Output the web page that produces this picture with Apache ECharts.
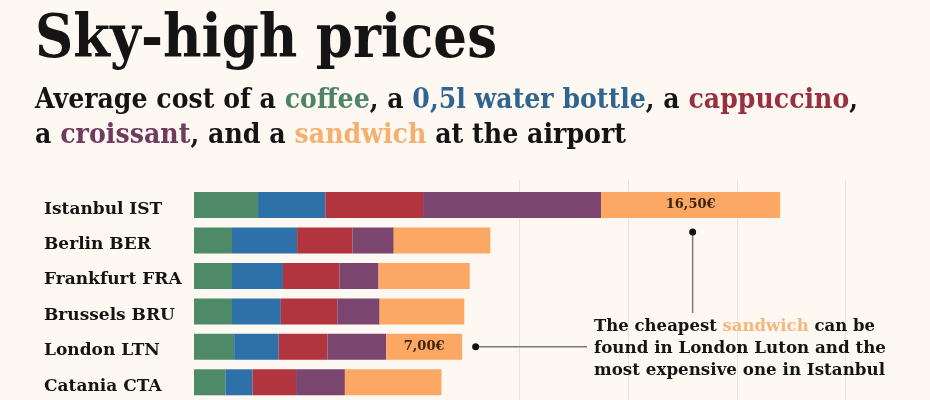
<!DOCTYPE html>
<html>
<head>
<meta charset="utf-8">
<script src="https://cdn.jsdelivr.net/npm/echarts@6/dist/echarts.min.js"></script>
<style>
html,body{margin:0;padding:0;background:#fdf9f2;}
#c{width:930px;height:400px;}
</style>
</head>
<body>
<div id="c"></div>
<script>
// ---- data ----
const airports = ['Istanbul IST', 'Berlin BER', 'Frankfurt FRA', 'Brussels BRU', 'London LTN', 'Catania CTA'];
const coffee = [5.90, 3.50, 3.50, 3.50, 3.70, 2.90];
const water = [6.20, 6.00, 4.70, 4.50, 4.10, 2.50];
const cappuccino = [9.00, 5.10, 5.20, 5.20, 4.50, 4.00];
const croissant = [16.40, 3.80, 3.60, 3.90, 5.40, 4.50];
const sandwich = [16.50, 8.90, 8.40, 7.80, 7.00, 8.90];
const gridStart = 30;      // first visible vertical guide (€)
const gridStep = 10;       // guide spacing (€)
const axisMax = 67.8;      // value at the right edge of the picture (€)

const colors = {
  coffee: '#4e8a68', water: '#2e70a8', cappuccino: '#b2343f',
  croissant: '#7a4670', sandwich: '#fca764'
};
const SERIF = '"DejaVu Serif", serif';
const ink = '#141414';

const chart = echarts.init(document.getElementById('c'), null, {renderer: 'canvas'});

const measure = (function () {
  const cv = document.createElement('canvas').getContext('2d');
  return function (txt, size) {
    cv.font = 'bold ' + size + 'px ' + SERIF;
    return cv.measureText(txt).width;
  };
})();

function fitText(plain, richText, size, x, y, targetW, rich) {
  const w = measure(plain, size);
  return {
    type: 'text', x: x, y: y, scaleX: targetW / w, scaleY: 1, z: 100,
    style: {
      text: richText, fontFamily: SERIF, fontWeight: 'bold', fontSize: size,
      fill: ink, align: 'left', verticalAlign: 'middle', rich: rich || {}
    }
  };
}

const maxS = Math.max.apply(null, sandwich), minS = Math.min.apply(null, sandwich);

function mk(name, data, color, labelled) {
  return {
    name: name, type: 'bar', stack: 'total', barWidth: 26, data: data,
    xAxisIndex: 0, yAxisIndex: 0,
    itemStyle: {color: color},
    emphasis: {disabled: true},
    label: labelled ? {
      show: true, position: 'inside', color: '#3a2410', fontFamily: SERIF,
      fontWeight: 'bold', fontSize: 13,
      formatter: function (p) {
        return (p.value === maxS || p.value === minS) ? p.value.toFixed(2).replace('.', ',') + '€' : '';
      }
    } : {show: false}
  };
}

const L = 194, R = 0, PW = 930 - L - R;

chart.setOption({
  backgroundColor: '#fdf9f2',
  animation: false,
  grid: [
    {left: L, right: R, top: 187.4, height: 214.8, containLabel: false},
    {left: L + PW * gridStart / axisMax, right: R, top: 180, bottom: -5}
  ],
  xAxis: [
    {type: 'value', gridIndex: 0, min: 0, max: axisMax, show: false},
    {type: 'value', gridIndex: 1, min: gridStart, max: axisMax, interval: gridStep,
     axisLine: {show: false}, axisTick: {show: false}, axisLabel: {show: false},
     splitLine: {show: true, showMaxLine: false, lineStyle: {color: '#ebe3d8', width: 1}}}
  ],
  yAxis: [
    {type: 'category', gridIndex: 0, data: airports, inverse: true,
     axisLine: {show: false}, axisTick: {show: false}, splitLine: {show: false},
     axisLabel: {align: 'left', margin: 150, color: ink,
                 formatter: '{a|{value}}',
                 rich: {a: {fontFamily: SERIF, fontWeight: 'bold', fontSize: 17, color: ink,
                            padding: [8, 0, 0, 0]}}}},
    {type: 'value', gridIndex: 1, show: false}
  ],
  series: [
    mk('coffee', coffee, colors.coffee),
    mk('0,5l water bottle', water, colors.water),
    mk('cappuccino', cappuccino, colors.cappuccino),
    mk('croissant', croissant, colors.croissant),
    mk('sandwich', sandwich, colors.sandwich, true)
  ]
});

// annotations positioned from the data scale
const iMax = sandwich.indexOf(maxS), iMin = sandwich.indexOf(minS);
function startOf(i) { return coffee[i] + water[i] + cappuccino[i] + croissant[i]; }
const pMaxMid = chart.convertToPixel({gridIndex: 0}, [startOf(iMax) + maxS / 2, iMax]);
const pMinEnd = chart.convertToPixel({gridIndex: 0}, [startOf(iMin) + minS, iMin]);

const dotR = 3.5;
const ax = 594;
const richSub = {
  g: {fill: '#4d8465', fontFamily: SERIF, fontWeight: 'bold', fontSize: 27},
  b: {fill: '#2f6590', fontFamily: SERIF, fontWeight: 'bold', fontSize: 27},
  r: {fill: '#9a2f3f', fontFamily: SERIF, fontWeight: 'bold', fontSize: 27},
  p: {fill: '#6f3c5f', fontFamily: SERIF, fontWeight: 'bold', fontSize: 27},
  o: {fill: '#f3b06e', fontFamily: SERIF, fontWeight: 'bold', fontSize: 27}
};
const richAnn = {o: {fill: '#f5b67c', fontFamily: SERIF, fontWeight: 'bold', fontSize: 17}};

chart.setOption({
  graphic: [
    fitText('Sky-high prices', 'Sky-high prices', 59, 35, 42, 462),
    fitText('Average cost of a coffee, a 0,5l water bottle, a cappuccino,',
      'Average cost of a {g|coffee}, a {b|0,5l water bottle}, a {r|cappuccino},',
      27, 35, 101, 823, richSub),
    fitText('a croissant, and a sandwich at the airport',
      'a {p|croissant}, and a {o|sandwich} at the airport',
      27, 35, 136, 591, richSub),
    fitText('The cheapest sandwich can be', 'The cheapest {o|sandwich} can be', 17, ax, 327, 281, richAnn),
    fitText('found in London Luton and the', 'found in London Luton and the', 17, ax, 349, 292, richAnn),
    fitText('most expensive one in Istanbul', 'most expensive one in Istanbul', 17, ax, 371, 291, richAnn),
    {type: 'line', z: 100, shape: {x1: pMaxMid[0] + 2, y1: pMaxMid[1] + 27, x2: pMaxMid[0] + 2, y2: 313},
     style: {stroke: '#7a7a7a', lineWidth: 1.5}},
    {type: 'circle', z: 101, shape: {cx: pMaxMid[0] + 2, cy: pMaxMid[1] + 27, r: dotR}, style: {fill: '#111'}},
    {type: 'line', z: 100, shape: {x1: pMinEnd[0] + 13.5, y1: pMinEnd[1], x2: 587, y2: pMinEnd[1]},
     style: {stroke: '#7a7a7a', lineWidth: 1.5}},
    {type: 'circle', z: 101, shape: {cx: pMinEnd[0] + 13.5, cy: pMinEnd[1], r: dotR}, style: {fill: '#111'}}
  ]
});
</script>
</body>
</html>
